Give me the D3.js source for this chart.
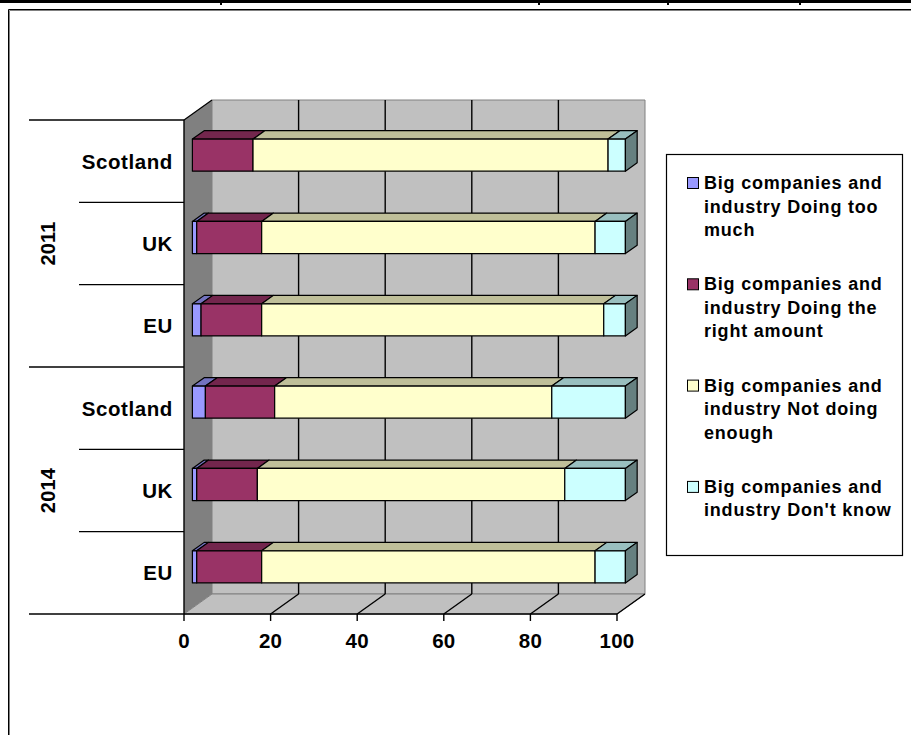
<!DOCTYPE html>
<html>
<head>
<meta charset="utf-8">
<script src="https://cdn.jsdelivr.net/npm/d3@7"></script>
<style>
  html, body { margin: 0; padding: 0; background: #fff; }
  svg { display: block; }
  text { font-family: "Liberation Sans", Arial, sans-serif; font-weight: bold; fill: #000; }
</style>
</head>
<body>
<svg id="chart" width="911" height="735"></svg>
<script>
// Survey results: attitude to big companies and industry, by year and area
const years = ["2011", "2014"];
const areas = ["Scotland", "UK", "EU"];
const seriesNames = [
  "Big companies and industry Doing too much",
  "Big companies and industry Doing the right amount",
  "Big companies and industry Not doing enough",
  "Big companies and industry Don't know"
];
const legendLines = [
  ["Big companies and", "industry Doing too", "much"],
  ["Big companies and", "industry Doing the", "right amount"],
  ["Big companies and", "industry Not doing", "enough"],
  ["Big companies and", "industry Don't know"]
];
// values per row, top to bottom: 2011 Scotland, UK, EU, 2014 Scotland, UK, EU
const doingTooMuch    = [0, 1, 2, 3, 1, 1];
const doingRightAmt   = [14, 15, 14, 16, 14, 15];
const notDoingEnough  = [82, 77, 79, 64, 71, 77];
const dontKnow        = [4, 7, 5, 17, 14, 7];
const xTicks = [0, 20, 40, 60, 80, 100];

const faceColors = ["#9999ff", "#993366", "#ffffcc", "#ccffff"];

const rows = [];
years.forEach(y => areas.forEach(a => rows.push({ key: y + "|" + a, year: y, area: a })));
rows.forEach((r, i) => {
  r[seriesNames[0]] = doingTooMuch[i];
  r[seriesNames[1]] = doingRightAmt[i];
  r[seriesNames[2]] = notDoingEnough[i];
  r[seriesNames[3]] = dontKnow[i];
});

const svg = d3.select("#chart");

// page furniture: top rule and chart frame
svg.append("rect").attr("x", 0).attr("y", 0).attr("width", 911).attr("height", 3).attr("fill", "#000");
[220, 538, 667, 799].forEach(x =>
  svg.append("rect").attr("x", x).attr("y", 0).attr("width", 2).attr("height", 5).attr("fill", "#000"));
svg.append("path").attr("d", "M8.5,735V9.5H911").attr("fill", "none").attr("stroke", "#000").attr("stroke-width", 1);
svg.append("path").attr("d", "M9.5,735V10.5H911").attr("fill", "none").attr("stroke", "#808080").attr("stroke-width", 1);

// 3D plot geometry
const x = d3.scaleLinear().domain([0, 100]).range([184, 617]);
const yBand = d3.scaleBand().domain(rows.map(r => r.key)).range([120, 614]).padding(0);
const DX = 28, DY = -20;           // depth offset of back wall
const f0 = 0.3, f1 = 0.72;         // bar front / back depth fractions
const barFrac = 0.39;

const P = (v, y, f) => [x(v) + f * DX, y + f * DY];
const poly = pts => "M" + pts.map(p => p.join(",")).join("L") + "Z";

const yTop = yBand.range()[0], yBot = yBand.range()[1];

// left wall
svg.append("path")
  .attr("d", poly([P(0, yTop, 0), P(0, yTop, 1), P(0, yBot, 1), P(0, yBot, 0)]))
  .attr("fill", "#808080").attr("stroke", "none");
// back wall
svg.append("path")
  .attr("d", poly([P(0, yTop, 1), P(100, yTop, 1), P(100, yBot, 1), P(0, yBot, 1)]))
  .attr("fill", "#c0c0c0").attr("stroke", "#808080").attr("stroke-width", 1);
// floor
svg.append("path")
  .attr("d", poly([P(0, yBot, 0), P(0, yBot, 1), P(100, yBot, 1), P(100, yBot, 0)]))
  .attr("fill", "#c0c0c0").attr("stroke", "#808080").attr("stroke-width", 1);

// gridlines on back wall and floor
const grid = svg.append("g").attr("stroke", "#000").attr("stroke-width", 1.4).attr("fill", "none");
xTicks.filter(t => t > 0 && t < 100).forEach(t => {
  grid.append("path").attr("d", "M" + P(t, yTop, 1).join(",") + "L" + P(t, yBot, 1).join(","));
});
xTicks.filter(t => t > 0).forEach(t => {
  grid.append("path").attr("d", "M" + P(t, yBot, 0).join(",") + "L" + P(t, yBot, 1).join(","));
});

// left wall top edge
svg.append("path").attr("d", "M" + P(0, yTop, 0).join(",") + "L" + P(0, yTop, 1).join(","))
  .attr("stroke", "#000").attr("stroke-width", 1.2).attr("fill", "none");

// stacked bars
const stack = d3.stack().keys(seriesNames);
const layers = stack(rows);
const shade = (c, k) => { const o = d3.rgb(c); return d3.rgb(o.r * k, o.g * k, o.b * k).formatHex(); };

const bars = svg.append("g").attr("stroke", "#000").attr("stroke-width", 1.2).attr("stroke-linejoin", "round");
rows.forEach((r, i) => {
  const bw = yBand.bandwidth();
  const yc = yBand(r.key) + bw / 2;
  const y0 = yc - bw * barFrac / 2, y1 = yc + bw * barFrac / 2;
  layers.forEach((layer, si) => {
    const [a, b] = layer[i];
    if (b - a <= 0) return;
    const g = bars.append("g");
    // top face
    g.append("path").attr("d", poly([P(a, y0, f0), P(a, y0, f1), P(b, y0, f1), P(b, y0, f0)]))
      .attr("fill", shade(faceColors[si], 0.75));
    // front face
    g.append("path").attr("d", poly([P(a, y0, f0), P(b, y0, f0), P(b, y1, f0), P(a, y1, f0)]))
      .attr("fill", faceColors[si]);
    // right end face on the last visible segment
    const isLast = layers.slice(si + 1).every(l => l[i][1] - l[i][0] <= 0);
    if (isLast) {
      g.append("path").attr("d", poly([P(b, y0, f0), P(b, y0, f1), P(b, y1, f1), P(b, y1, f0)]))
        .attr("fill", shade(faceColors[si], 0.5));
    }
  });
});

// value axis
const axisG = svg.append("g");
axisG.append("path").attr("d", `M${x(0)},${yBot}H${x(100)}`).attr("stroke", "#000").attr("stroke-width", 1.4);
xTicks.forEach(t => {
  axisG.append("path").attr("d", `M${x(t)},${yBot}V${yBot + 7}`).attr("stroke", "#000").attr("stroke-width", 1.4);
  axisG.append("text").attr("x", x(t)).attr("y", 648).attr("text-anchor", "middle")
    .attr("font-size", 20.5).attr("letter-spacing", 0.2).text(t);
});

// category axis with grouped labels
const catG = svg.append("g");
catG.append("path").attr("d", `M${x(0)},${yTop}V${yBot}`).attr("stroke", "#000").attr("stroke-width", 1.4);
rows.forEach((r, i) => {
  const yb = yBand(r.key);
  const groupStart = i % areas.length === 0;
  catG.append("path").attr("d", `M${groupStart ? 29 : 79},${yb}H${x(0)}`)
    .attr("stroke", "#000").attr("stroke-width", 1.4);
  catG.append("text").attr("x", 173).attr("y", yb + yBand.bandwidth() / 2 + 7.5)
    .attr("text-anchor", "end").attr("font-size", 20.5).attr("letter-spacing", 0.6).text(r.area);
});
catG.append("path").attr("d", `M29,${yBot}H${x(0)}`).attr("stroke", "#000").attr("stroke-width", 1.4);
years.forEach((y, gi) => {
  const first = yBand(y + "|" + areas[0]);
  const last = yBand(y + "|" + areas[areas.length - 1]) + yBand.bandwidth();
  const cy = (first + last) / 2;
  catG.append("text").attr("transform", `translate(55,${cy}) rotate(-90)`)
    .attr("text-anchor", "middle").attr("font-size", 20).attr("letter-spacing", 0.2).text(y);
});

// legend
const leg = svg.append("g");
leg.append("rect").attr("x", 666.5).attr("y", 154.5).attr("width", 236).attr("height", 401)
  .attr("fill", "#fff").attr("stroke", "#000").attr("stroke-width", 1.2);
legendLines.forEach((lines, i) => {
  const base = 189 + i * 101.3;
  leg.append("rect").attr("x", 687.5).attr("y", base - 11.5).attr("width", 11).attr("height", 11)
    .attr("fill", faceColors[i]).attr("stroke", "#000").attr("stroke-width", 1);
  const t = leg.append("text").attr("font-size", 18).attr("letter-spacing", 0.8);
  lines.forEach((ln, j) => t.append("tspan").attr("x", 704).attr("y", base + j * 23.5).text(ln));
});
</script>
</body>
</html>
